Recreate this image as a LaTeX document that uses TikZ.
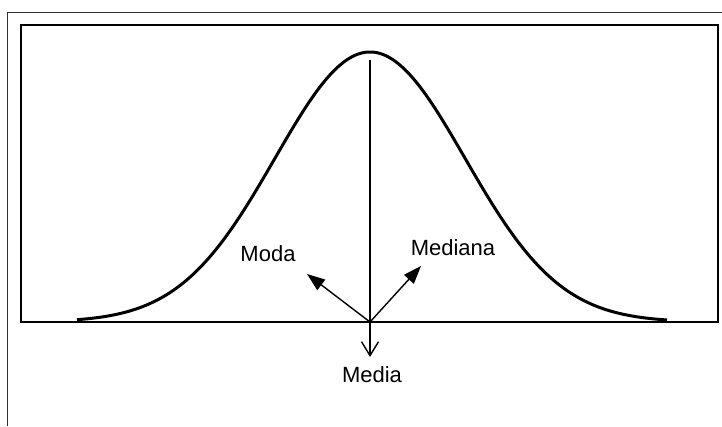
\documentclass[tikz,border=0pt]{standalone}
\usepackage{fontspec}
\setmainfont{Liberation Sans}
\usetikzlibrary{arrows.meta}
\tikzset{
  frameline/.style={line width=1.2pt, black},
  outerline/.style={line width=0.9pt, black!80},
  curveline/.style={line width=3pt, black, line join=round},
  pointer/.style={line width=1.4pt, -{Triangle[length=18pt,width=13pt]}},
  downpointer/.style={line width=1.4pt, -{Straight Barb[length=14pt,width=17pt]}},
  lab/.style={font=\fontsize{22}{26}\selectfont, inner sep=0pt}
}
\begin{document}
\begin{tikzpicture}[x=1pt,y=-1pt]
\useasboundingbox (0,0) rectangle (722,426);
% outer frame remnants
\draw[outerline] (7,426) -- (7,12) -- (722,12);
% inner frame
\draw[frameline] (21,322) rectangle (718,25);
% bell curve
\draw[curveline, domain=77:667, samples=160, smooth]
  plot (\x, {322-270*exp(-0.5*((\x-370)/95)^2)});
% coordinates
\coordinate (origin) at (370,322);
\coordinate (peak) at (370,60);
\coordinate (modatip) at (307,274);
\coordinate (medianatip) at (421,266);
\coordinate (mediatip) at (370,357);
% vertical line
\draw[line width=1.3pt] (origin) -- (peak);
% arrows
\draw[pointer] (origin) -- (modatip);
\draw[pointer] (origin) -- (medianatip);
\draw[downpointer] (origin) -- (mediatip);
% labels
\node[lab] (moda) at (268,254) {Moda};
\node[lab] (mediana) at (453,248) {Mediana};
\node[lab] (media) at (372,375) {Media};
\end{tikzpicture}
\end{document}
